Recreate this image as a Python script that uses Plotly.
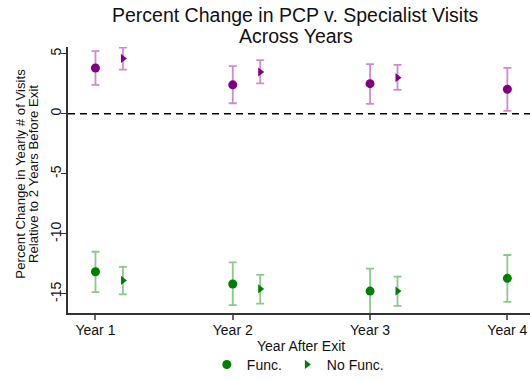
import plotly.graph_objects as go

# Categories
years = [1, 2, 3, 4]
year_labels = ["Year 1", "Year 2", "Year 3", "Year 4"]
nofunc_offset = 0.2

# Specialist visits (purple): point estimate and 95% CI bounds
spec_func = [3.8, 2.4, 2.5, 2.03]
spec_func_hi = [5.2, 3.96, 4.12, 3.82]
spec_func_lo = [2.4, 0.87, 0.81, 0.24]
spec_nofunc = [4.6, 3.47, 3.0, 1.7]
spec_nofunc_hi = [5.5, 4.45, 4.07, 2.8]
spec_nofunc_lo = [3.66, 2.52, 1.98, 0.6]

# PCP visits (green): point estimate and 95% CI bounds
pcp_func = [-13.15, -14.17, -14.76, -13.7]
pcp_func_hi = [-11.49, -12.38, -12.9, -11.76]
pcp_func_lo = [-14.85, -15.93, -16.8, -15.66]
pcp_nofunc = [-13.88, -14.58, -14.76, -15.0]
pcp_nofunc_hi = [-12.74, -13.41, -13.55, -13.7]
pcp_nofunc_lo = [-15.04, -15.8, -16.0, -16.3]

y_ticks = [-15, -10, -5, 0, 5]
y_tick_labels = ["-15", "-10", "-5", "0", "5"]

FONT = "Liberation Sans, Arial, sans-serif"
PURPLE = "#800080"
PURPLE_CI = "rgb(206,140,206)"
GREEN = "#008000"
GREEN_CI = "rgb(140,200,140)"


def ci_trace(x, est, hi, lo, color, ci_color, symbol, size, name, show):
    return go.Scatter(
        x=x,
        y=est,
        mode="markers",
        name=name,
        showlegend=show,
        marker=dict(color=color, symbol=symbol, size=size, line=dict(width=0)),
        error_y=dict(
            type="data",
            symmetric=False,
            array=[h - e for h, e in zip(hi, est)],
            arrayminus=[e - l for e, l in zip(est, lo)],
            color=ci_color,
            thickness=1.8,
            width=4,
        ),
    )


x_func = years
x_nofunc = [y + nofunc_offset for y in years]

fig = go.Figure()
fig.add_trace(ci_trace(x_func, spec_func, spec_func_hi, spec_func_lo,
                       PURPLE, PURPLE_CI, "circle", 9, "Spec Func.", False))
fig.add_trace(ci_trace(x_nofunc, spec_nofunc, spec_nofunc_hi, spec_nofunc_lo,
                       PURPLE, PURPLE_CI, "triangle-right", 8, "Spec No Func.", False))
fig.add_trace(ci_trace(x_func, pcp_func, pcp_func_hi, pcp_func_lo,
                       GREEN, GREEN_CI, "circle", 9, "Func.", True))
fig.add_trace(ci_trace(x_nofunc, pcp_nofunc, pcp_nofunc_hi, pcp_nofunc_lo,
                       GREEN, GREEN_CI, "triangle-right", 8, "No Func.", True))

# Reference line at zero
fig.add_shape(type="line", xref="paper", x0=0, x1=1, yref="y", y0=0, y1=0,
              line=dict(color="black", width=1.5, dash="7px,5px"), layer="below")

annotations = [
    dict(text="Percent Change in PCP v. Specialist Visits", x=0.4935, y=1.121,
         font=dict(size=19.5)),
    dict(text="Across Years", x=0.4935, y=1.043, font=dict(size=19.5)),
    dict(text="Percent Change in Yearly # of Visits", x=-0.1017, y=0.524,
         textangle=-90, font=dict(size=13.2)),
    dict(text="Relative to 2 Years Before Exit", x=-0.0747, y=0.524,
         textangle=-90, font=dict(size=13.2)),
    dict(text="Year After Exit", x=0.504, y=-0.124, font=dict(size=14)),
]
for a in annotations:
    a.update(xref="paper", yref="paper", xanchor="center", yanchor="middle",
             showarrow=False)
    a["font"].update(family=FONT, color="#111")

fig.update_layout(
    width=530,
    height=381,
    margin=dict(l=68, r=0, t=47, b=62),
    paper_bgcolor="white",
    plot_bgcolor="white",
    font=dict(family=FONT, size=14, color="#111"),
    annotations=annotations,
    showlegend=True,
    legend=dict(orientation="h", x=0.3005, xanchor="left", y=-0.195,
                yanchor="middle", font=dict(size=14), itemwidth=30,
                bgcolor="rgba(0,0,0,0)"),
    xaxis=dict(
        range=[0.8, 4.165],
        tickvals=years,
        ticktext=year_labels,
        ticks="outside",
        ticklen=5,
        tickcolor="#666",
        tickwidth=1.5,
        ticklabelstandoff=-2,
        showline=True,
        linecolor="#333",
        linewidth=1.5,
        showgrid=False,
        zeroline=False,
        tickfont=dict(size=14),
    ),
    yaxis=dict(
        range=[-16.585, 5.55],
        tickvals=y_ticks,
        ticktext=y_tick_labels,
        ticks="outside",
        ticklen=5,
        tickcolor="#333",
        ticklabelstandoff=-5,
        showline=True,
        linecolor="#333",
        linewidth=1.5,
        showgrid=False,
        zeroline=False,
        tickangle=-90,
        tickfont=dict(size=14),
    ),
)

fig.write_html("out.html")
